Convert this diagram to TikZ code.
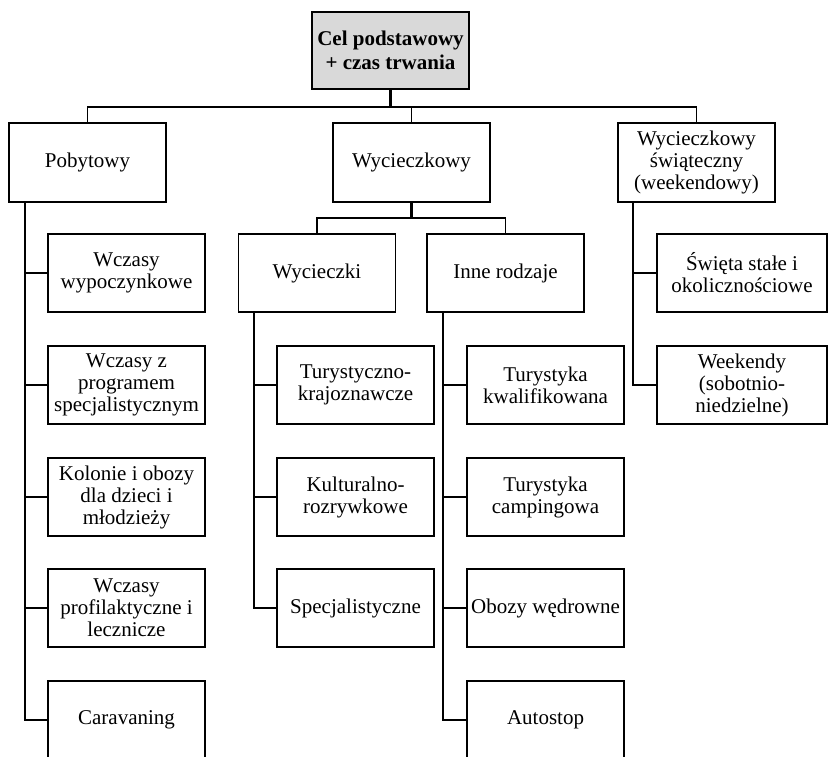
\documentclass[tikz,border=0pt]{standalone}
\usepackage{fontspec}
\setmainfont{Liberation Serif}
\begin{document}
\begin{tikzpicture}[x=1pt,y=-1pt,
  box/.style={draw, line width=1.8pt, minimum width=157pt, minimum height=78pt, inner sep=0pt, align=center, font=\fontsize{21}{22}\selectfont},
  conn/.style={line width=1.8pt},
  thickconn/.style={line width=2.6pt},
  thinconn/.style={line width=0.9pt}]
\useasboundingbox (0,0) rectangle (832,756);
% root
\node[box, fill={rgb,255:red,217;green,217;blue,217}, minimum height=77pt, font=\fontsize{21}{24}\selectfont\bfseries] (root) at (390.5,50.5) {Cel podstawowy\\+ czas trwania};
% level 1
\node[box, minimum height=79pt] (pob) at (87.5,162.5) {Pobytowy};
\node[box, minimum height=79pt] (wyc) at (411.5,162.5) {Wycieczkowy};
\node[box, minimum height=79pt] (swi) at (696.5,162.5) {Wycieczkowy\\świąteczny\\(weekendowy)};
% Pobytowy children
\node[box] (p1) at (126.5,273) {Wczasy\\wypoczynkowe};
\node[box] (p2) at (126.5,385) {Wczasy z\\programem\\specjalistycznym};
\node[box] (p3) at (126.5,497) {Kolonie i obozy\\dla dzieci i\\młodzieży};
\node[box] (p4) at (126.5,608) {Wczasy\\profilaktyczne i\\lecznicze};
\node[box] (p5) at (126.5,720) {Caravaning};
% Wycieczkowy children
\node[box] (w1) at (317,273) {Wycieczki};
\node[box] (w2) at (505.5,273) {Inne rodzaje};
\node[box] (a1) at (355.5,385) {Turystyczno-\\krajoznawcze};
\node[box] (a2) at (355.5,497) {Kulturalno-\\rozrywkowe};
\node[box] (a3) at (355.5,608) {Specjalistyczne};
\node[box] (b1) at (545.5,385) {Turystyka\\kwalifikowana};
\node[box] (b2) at (545.5,497) {Turystyka\\campingowa};
\node[box] (b3) at (545.5,608) {Obozy wędrowne};
\node[box] (b4) at (545.5,720) {Autostop};
% Swiateczny children
\node[box, minimum width=170pt] (s1) at (742,273) {Święta stałe i\\okolicznościowe};
\node[box, minimum width=170pt] (s2) at (742,385) {Weekendy\\(sobotnio-\\niedzielne)};
% connectors level 0-1
\coordinate (bus) at (0,107);
\draw[thickconn] (root.south) -- (root.south |- bus);
\draw[conn] (pob.north) |- (bus -| swi.north) -- (swi.north);
\draw[thinconn] (wyc.north) -- (wyc.north |- bus);
% Wycieczkowy to its children
\coordinate (bus2) at (0,218);
\draw[thickconn] (wyc.south) -- (wyc.south |- bus2);
\draw[conn] (w1.north) |- (bus2 -| w2.north) -- (w2.north);
% trunks
\coordinate (pt) at (25,202);
\foreach \c in {p1,p2,p3,p4,p5} \draw[conn] (pt) |- (\c.west);
\coordinate (wt) at (254,312);
\foreach \c in {a1,a2,a3} \draw[conn] (wt) |- (\c.west);
\coordinate (it) at (443,312);
\draw[thickconn] (it) -- (it |- b3.west);
\foreach \c in {b1,b2,b3,b4} \draw[conn] (it) |- (\c.west);
\coordinate (st) at (633,202);
\draw[thickconn] (st) -- (st |- s1.west);
\foreach \c in {s1,s2} \draw[conn] (st) |- (\c.west);
\end{tikzpicture}
\end{document}
